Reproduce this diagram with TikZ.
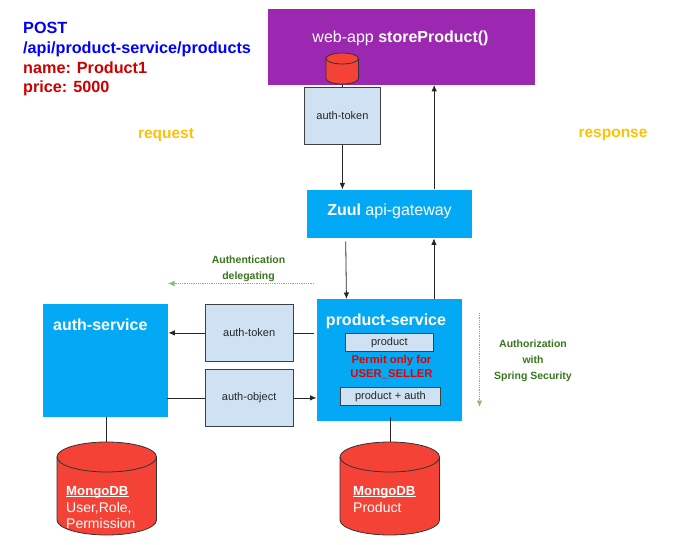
\documentclass[tikz,border=0pt]{standalone}
\usepackage{fontspec}
\setmainfont{Liberation Sans}
\usetikzlibrary{arrows.meta,shapes.geometric}
\definecolor{pur}{HTML}{9C27B0}
\definecolor{blu}{HTML}{03A9F4}
\definecolor{pale}{HTML}{CFE2F3}
\definecolor{redd}{HTML}{F44336}
\definecolor{grn}{HTML}{38761D}
\definecolor{hintc}{HTML}{6AA84F}
\definecolor{ora}{HTML}{FFC107}
\definecolor{dred}{HTML}{CC0000}
\newcommand{\ul}[1]{\underline{\smash{#1}}}
\tikzset{
 x=1pt,y=-1pt,
 svc/.style={fill=blu,draw=none,inner sep=0,anchor=north west,text=white},
 tok/.style={fill=pale,draw=black!75,line width=.8pt,inner sep=0,anchor=north west,font=\fontsize{11}{13}\selectfont,text=black!85},
 arr/.style={draw=black!85,line width=.8pt,-{Latex[length=6.5pt,width=5.5pt]}},
 ln/.style={draw=black!85,line width=.8pt},
 db/.style={fill=redd,draw=black!80,line width=.8pt},
 dbt/.style={text=white,anchor=north west,inner sep=0,align=left,font=\fontsize{14}{16.8}\selectfont},
 lab/.style={inner sep=0,font=\fontsize{10.5}{16}\selectfont\bfseries,text=grn,align=center},
 hint/.style={draw=hintc!80,densely dotted,line width=.8pt,-{Latex[length=6.5pt,width=5.5pt]}},
 big/.style={inner sep=0,text=white,font=\fontsize{16}{19}\selectfont},
 hd/.style={inner sep=0,text=ora,font=\fontsize{15.5}{18}\selectfont\bfseries}
}
\newcommand{\cyl}[5]{% x left, y top, width, height, ry
 \draw[db] (#1,#2+#5) arc[start angle=180,end angle=0,x radius=#3/2,y radius=-#5] -- (#1+#3,#2+#4-#5) arc[start angle=0,end angle=-180,x radius=#3/2,y radius=-#5] -- cycle;
 \draw[db,fill=none] (#1,#2+#5) arc[start angle=-180,end angle=0,x radius=#3/2,y radius=-#5];
}
\begin{document}
\begin{tikzpicture}
\useasboundingbox (0,0) rectangle (674,545);
\node[svc,minimum width=267,minimum height=76,fill=pur] (web) at (267.5,8.5) {};
\node[big] (webt) at (400.5,38) {web-app \textbf{storeProduct()}};
\node[tok,minimum width=76,minimum height=57] (tok1) at (304,87) {auth-token};
\cyl{326}{53}{32.5}{31}{5.5}
\coordinate (cylb) at (342.3,84);
\draw[ln] (cylb) -- (tok1.north);
\node[svc,minimum width=165,minimum height=48.5] (zuul) at (307,189.5) {};
\node[big] (zuult) at (389.5,211) {\textbf{Zuul} api-gateway};
\node[svc,minimum width=145.5,minimum height=122] (ps) at (316.5,299) {};
\node[big,font=\fontsize{16}{19}\selectfont\bfseries] (pst) at (386,321) {product-service};
\node[tok,minimum width=88,minimum height=18] (prod) at (345,333) {product};
\node[tok,minimum width=100,minimum height=18] (pa) at (340,387) {product + auth};
\node[inner sep=0,text=red!90!black,align=center,font=\fontsize{11.3}{13.5}\selectfont\bfseries] (perm) at (391.5,367) {Permit only for\\USER\_SELLER};
\node[svc,minimum width=125,minimum height=113] (as) at (43,304) {};
\node[big,font=\fontsize{16}{19}\selectfont\bfseries,anchor=west] (ast) at (53,324.5) {auth-service};
\node[tok,minimum width=88.5,minimum height=57] (t2) at (204.5,304) {auth-token};
\node[tok,minimum width=88.5,minimum height=57] (o2) at (204.5,369) {auth-object};
\cyl{57}{442}{99.5}{93}{15}
\cyl{340}{442}{99.5}{93}{15}
\coordinate (dbtop1) at (106.7,442);
\coordinate (dbtop2) at (390,442);
\node[dbt] (db1) at (66,495) {\ul{\fontsize{13.2}{16.8}\selectfont\textbf{MongoDB}}\\User,Role,\\Permission};
\node[dbt] (db2) at (353,495) {\ul{\fontsize{13.2}{16.8}\selectfont\textbf{MongoDB}}\\Product};
\draw[ln] (as.south -| dbtop1) -- (dbtop1);
\draw[ln] ([yshift=4]ps.south -| dbtop2) -- (dbtop2);
\draw[arr] (tok1.south) -- (tok1.south |- zuul.north);
\draw[arr] ([xshift=-44,yshift=-3]zuul.south) -- ([xshift=-43]ps.north);
\draw[arr] ([xshift=44.5]ps.north) -- ([xshift=44.5]ps.north |- zuul.south);
\draw[arr] ([xshift=44.5]zuul.north) -- ([xshift=44.5]zuul.north |- web.south);
\draw[ln] ([xshift=-3]ps.west |- t2.east) -- (t2.east);
\draw[arr] (t2.west) -- (t2.west -| as.east);
\draw[ln] ([xshift=-1]as.east |- o2.west) -- (o2.west);
\draw[arr] (o2.east) -- (o2.east -| ps.west);
\node[inner sep=0,align=left,anchor=north west,font=\fontsize{16.2}{19.8}\selectfont\bfseries] (req) at (23,22) {\textcolor{blue}{POST}\\\textcolor{blue}{/api/product-service/products}\\\textcolor{dred}{name: Product1}\\\textcolor{dred}{price: 5000}};
\node[hd] (rq) at (166,135) {request};
\node[hd] (rs) at (613,135) {response};
\node[lab] (al) at (248.5,269) {Authentication\\delegating};
\node[lab] (az) at (533,361) {Authorization\\with\\Spring Security};
\coordinate (h1) at (314,283.5); \coordinate (h2) at (168,283.5);
\draw[hint] (h1) -- (h2);
\coordinate (h3) at (479.5,313); \coordinate (h4) at (479.5,407);
\draw[hint] (h3) -- (h4);
\end{tikzpicture}
\end{document}
